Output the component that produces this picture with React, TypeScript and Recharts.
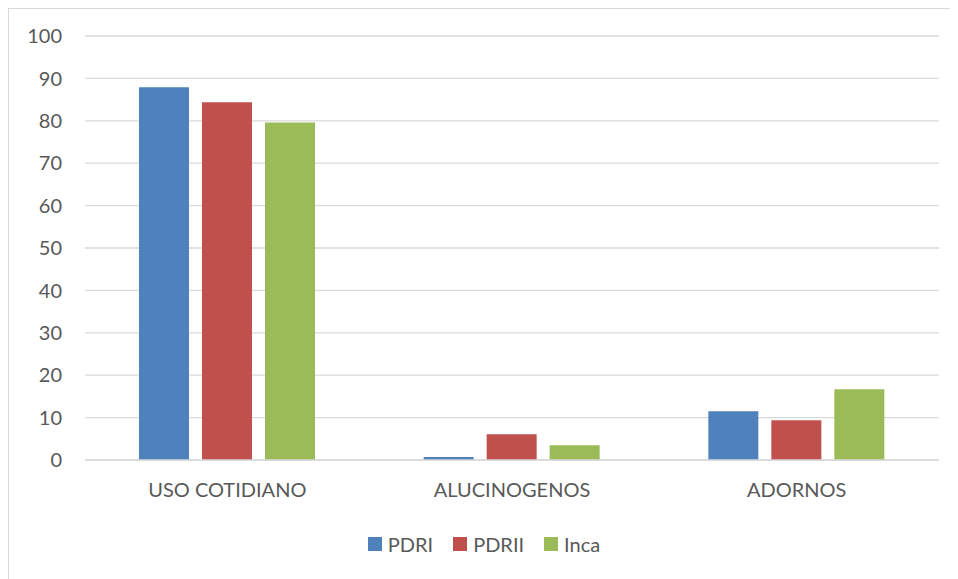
import { BarChart, Bar, XAxis, YAxis, CartesianGrid, Legend } from 'recharts'

const categories = ['USO COTIDIANO', 'ALUCINOGENOS', 'ADORNOS']
const pdri = [87.9, 0.7, 11.5]
const pdrii = [84.4, 6.1, 9.4]
const inca = [79.6, 3.5, 16.7]
const yTicks = [0, 10, 20, 30, 40, 50, 60, 70, 80, 90, 100]

const SERIES = [
  { key: 'PDRI', color: '#4F81BD' },
  { key: 'PDRII', color: '#C0504D' },
  { key: 'Inca', color: '#9BBB59' },
]

const FONT = 'Lato, "Open Sans", sans-serif'
const TEXT = '#595959'

const data = categories.map((name, i) => ({
  name,
  PDRI: pdri[i],
  PDRII: pdrii[i],
  Inca: inca[i],
}))

const renderLegend = () => (
  <div style={{ display: 'flex', justifyContent: 'center', fontFamily: FONT, fontSize: 20, color: TEXT, marginTop: -8, paddingLeft: 20 }}>
    {SERIES.map(s => (
      <div key={s.key} style={{ display: 'flex', alignItems: 'center', margin: '0 10px' }}>
        <span style={{ width: 14, height: 14, background: s.color, display: 'inline-block', marginRight: 6 }} />
        <span>{s.key}</span>
      </div>
    ))}
  </div>
)

export default function App() {
  return (
    <div style={{ width: 949, height: 570, borderLeft: '1px solid #d9d9d9', borderTop: '1px solid #d9d9d9', background: '#fff' }}>
      <BarChart
        width={949}
        height={570}
        data={data}
        margin={{ top: 27, right: 19, left: 0, bottom: 0 }}
        barGap={13}
        barSize={50}
      >
        <CartesianGrid vertical={false} stroke="#d9d9d9" strokeWidth={1.3} />
        <XAxis
          dataKey="name"
          height={80}
          tickLine={false}
          axisLine={{ stroke: '#d9d9d9', strokeWidth: 1.3 }}
          tickSize={0}
          tickMargin={23}
          tick={{ fill: TEXT, fontSize: 20, fontFamily: FONT }}
        />
        <YAxis
          width={76}
          domain={[0, 100]}
          ticks={yTicks}
          axisLine={false}
          tickLine={false}
          tickSize={0}
          tickMargin={23}
          tick={{ fill: TEXT, fontSize: 20, fontFamily: FONT }}
        />
        <Legend verticalAlign="bottom" height={39} content={renderLegend} />
        {SERIES.map(s => (
          <Bar key={s.key} dataKey={s.key} fill={s.color} isAnimationActive={false} />
        ))}
      </BarChart>
    </div>
  )
}
